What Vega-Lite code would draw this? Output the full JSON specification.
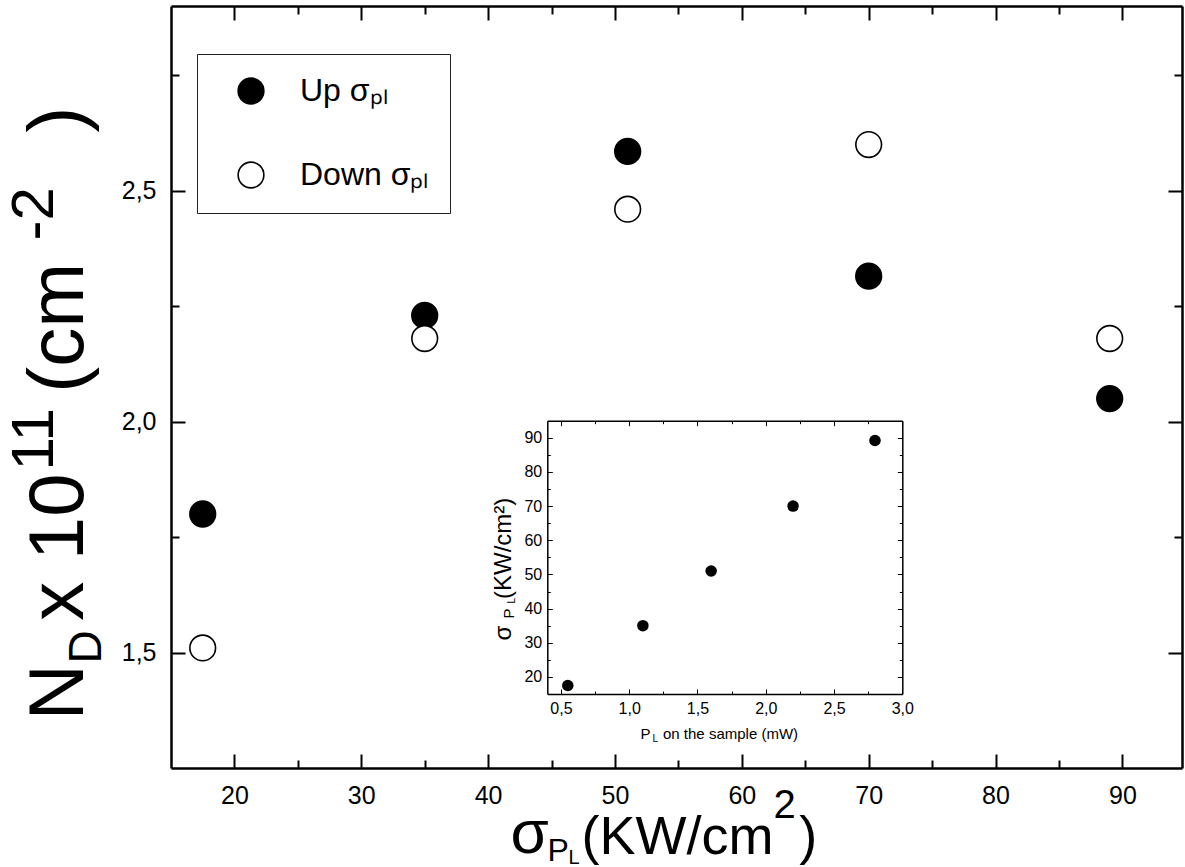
{
  "$schema": "https://vega.github.io/schema/vega-lite/v6.json",
  "width": 1011,
  "height": 762,
  "autosize": {"type": "none"},
  "padding": {"left": 171, "top": 6, "right": 3, "bottom": 99},
  "background": "white",
  "config": {
    "view": {"stroke": null},
    "font": "Liberation Sans",
    "axis": {
      "grid": false, "domainColor": "black", "tickColor": "black", "labelColor": "black", "titleColor": "black",
      "labelFont": "Liberation Sans", "titleFont": "Liberation Sans", "titleFontWeight": "normal",
      "labelOverlap": false, "labelBound": false, "labelFlush": false,
      "titleAlign": "left", "titleBaseline": "alphabetic", "titlePadding": 0
    }
  },
  "resolve": {"scale": {"x": "independent", "y": "independent"}, "axis": {"x": "independent", "y": "independent"}},
  "layer": [
    {
      "data": {"values": [
        {"sigma": 17.5, "nd": 1.80, "dir": "Up"},
        {"sigma": 35, "nd": 2.23, "dir": "Up"},
        {"sigma": 51, "nd": 2.585, "dir": "Up"},
        {"sigma": 70, "nd": 2.315, "dir": "Up"},
        {"sigma": 89, "nd": 2.05, "dir": "Up"},
        {"sigma": 17.5, "nd": 1.51, "dir": "Down"},
        {"sigma": 35, "nd": 2.18, "dir": "Down"},
        {"sigma": 51, "nd": 2.46, "dir": "Down"},
        {"sigma": 70, "nd": 2.60, "dir": "Down"},
        {"sigma": 89, "nd": 2.18, "dir": "Down"}
      ]},
      "mark": {"type": "point", "shape": "circle", "size": 660, "stroke": "black", "strokeWidth": 1.6, "opacity": 1, "fillOpacity": 1},
      "encoding": {
        "x": {"field": "sigma", "type": "quantitative", "scale": {"domain": [15, 94.7], "nice": false, "zero": false},
          "axis": {"orient": "bottom", "values": [20,25,30,35,40,45,50,55,60,65,70,75,80,85,90],
            "tickSize": {"condition": {"test": "datum.value % 10 === 0", "value": -14}, "value": -8},
            "tickWidth": 2, "domainWidth": 2.5,
            "labelExpr": "datum.value % 10 === 0 ? datum.label : ''", "labelFontSize": 25, "labelPadding": 29,
            "title": "σ", "titleFontSize": 62, "titleX": 339, "titleY": 84, "titleAngle": 0}},
        "y": {"field": "nd", "type": "quantitative", "scale": {"domain": [1.25, 2.9], "nice": false, "zero": false},
          "axis": {"orient": "left", "values": [1.5,1.75,2,2.25,2.5,2.75],
            "tickSize": {"condition": {"test": "(datum.value * 2) % 1 === 0", "value": -14}, "value": -8},
            "tickWidth": 2, "domainWidth": 2.5,
            "labelExpr": "(datum.value * 2) % 1 === 0 ? replace(format(datum.value, '.1f'), '.', ',') : ''",
            "labelFontSize": 25, "labelPadding": 29,
            "title": "N\u00a0\u00a0x\u00a010\u00a0\u00a0\u00a0\u2009(cm\u00a0\u00a0\u00a0\u00a0\u00a0\u00a0)", "titleFontSize": 78, "titleX": -89, "titleY": 714, "titleAngle": -90}},
        "fill": {"field": "dir", "type": "nominal", "scale": {"domain": ["Up", "Down"], "range": ["black", "white"]},
          "legend": {"orient": "none", "legendX": 26, "legendY": 48, "title": null, "symbolType": "circle", "symbolSize": 660,
            "symbolStrokeColor": "black", "symbolStrokeWidth": 1.6, "labelFontSize": 32, "labelFont": "Liberation Sans",
            "labelColor": "black", "padding": 21, "rowPadding": 50, "symbolOffset": 17, "labelOffset": 33,
            "strokeColor": "#222", "labelExpr": "datum.label + ' σₚₗ'", "labelLimit": 400}}
      }
    },
    {
      "data": {"values": []},
      "mark": "point",
      "encoding": {
        "x": {"field": "a", "type": "quantitative", "scale": {"domain": [15, 94.7], "nice": false, "zero": false},
          "axis": {"orient": "top", "values": [20,25,30,35,40,45,50,55,60,65,70,75,80,85,90],
            "tickSize": {"condition": {"test": "datum.value % 10 === 0", "value": -14}, "value": -8},
            "tickWidth": 2, "domainWidth": 2.5, "labels": false,
            "title": "P", "titleFontSize": 32, "titleX": 376, "titleY": 854, "titleAngle": 0}},
        "y": {"field": "b", "type": "quantitative", "scale": {"domain": [1.25, 2.9], "nice": false, "zero": false},
          "axis": {"orient": "right", "values": [1.5,1.75,2,2.25,2.5,2.75],
            "tickSize": {"condition": {"test": "(datum.value * 2) % 1 === 0", "value": -14}, "value": -8},
            "tickWidth": 2, "domainWidth": 2.5, "labels": false,
            "title": "D", "titleFontSize": 46, "titleX": -1082, "titleY": 657, "titleAngle": -90}}
      }
    },
    {
      "data": {"values": [
        {"p": 0.55, "s": 17.5},
        {"p": 1.1, "s": 35},
        {"p": 1.6, "s": 51},
        {"p": 2.2, "s": 70},
        {"p": 2.8, "s": 89.2}
      ]},
      "mark": {"type": "point", "shape": "circle", "size": 133, "filled": true, "color": "black", "opacity": 1},
      "encoding": {
        "x": {"field": "p", "type": "quantitative", "scale": {"domain": [0.4, 3.0], "range": [376.3, 731.3], "nice": false, "zero": false},
          "axis": {"orient": "bottom", "offset": -74, "values": [0.5,0.75,1,1.25,1.5,1.75,2,2.25,2.5,2.75,3],
            "tickSize": {"condition": {"test": "(datum.value * 2) % 1 === 0", "value": -5}, "value": -3},
            "tickWidth": 1, "domainWidth": 1.5,
            "labelExpr": "(datum.value * 2) % 1 === 0 ? replace(format(datum.value, '.1f'), '.', ',') : ''",
            "labelFontSize": 16, "labelPadding": 11,
            "title": "P\u00a0\u00a0\u00a0on the sample (mW)", "titleFontSize": 15, "titleX": 469, "titleY": 44, "titleAngle": 0}},
        "y": {"field": "s", "type": "quantitative", "scale": {"domain": [15, 95], "range": [688, 414.7], "nice": false, "zero": false},
          "axis": {"orient": "left", "offset": -376.3, "values": [20,25,30,35,40,45,50,55,60,65,70,75,80,85,90],
            "tickSize": {"condition": {"test": "datum.value % 10 === 0", "value": -5}, "value": -3},
            "tickWidth": 1, "domainWidth": 1.5,
            "labelExpr": "datum.value % 10 === 0 ? datum.label : ''", "labelFontSize": 16, "labelPadding": 10.6,
            "title": "σ\u00a0\u00a0\u00a0\u00a0(KW/cm²)", "titleFontSize": 24, "titleX": -37.3, "titleY": 634, "titleAngle": -90}}
      }
    },
    {
      "data": {"values": []},
      "mark": "point",
      "encoding": {
        "x": {"field": "a", "type": "quantitative", "scale": {"domain": [0.4, 3.0], "range": [376.3, 731.3], "nice": false, "zero": false},
          "axis": {"orient": "top", "offset": -414.7, "values": [0.5,0.75,1,1.25,1.5,1.75,2,2.25,2.5,2.75,3],
            "tickSize": {"condition": {"test": "(datum.value * 2) % 1 === 0", "value": -5}, "value": -3},
            "tickWidth": 1, "domainWidth": 1.5, "labels": false,
            "title": "L", "titleFontSize": 10, "titleX": 481, "titleY": 320.3, "titleAngle": 0}},
        "y": {"field": "b", "type": "quantitative", "scale": {"domain": [15, 95], "range": [688, 414.7], "nice": false, "zero": false},
          "axis": {"orient": "right", "offset": -279.7, "values": [20,25,30,35,40,45,50,55,60,65,70,75,80,85,90],
            "tickSize": {"condition": {"test": "datum.value % 10 === 0", "value": -5}, "value": -3},
            "tickWidth": 1, "domainWidth": 1.5, "labels": false,
            "title": "P", "titleFontSize": 15, "titleX": -389.3, "titleY": 612, "titleAngle": -90}}
      }
    },
    {
      "data": {"values": []},
      "mark": "point",
      "encoding": {
        "x": {"field": "a", "type": "quantitative", "scale": {"domain": [0, 1]},
          "axis": {"orient": "bottom", "domain": false, "ticks": false, "labels": false,
            "title": "(KW/cm\u00a0\u2009)", "titleFontSize": 54, "titleX": 410, "titleY": 85, "titleAngle": 0}},
        "y": {"field": "b", "type": "quantitative", "scale": {"domain": [0, 1]},
          "axis": {"orient": "left", "domain": false, "ticks": false, "labels": false,
            "title": "11", "titleFontSize": 60, "titleX": -119, "titleY": 464, "titleAngle": -90}}
      }
    },
    {
      "data": {"values": []},
      "mark": "point",
      "encoding": {
        "x": {"field": "a", "type": "quantitative", "scale": {"domain": [0, 1]},
          "axis": {"orient": "bottom", "domain": false, "ticks": false, "labels": false,
            "title": "L", "titleFontSize": 20, "titleX": 397, "titleY": 95, "titleAngle": 0}},
        "y": {"field": "b", "type": "quantitative", "scale": {"domain": [0, 1]},
          "axis": {"orient": "left", "domain": false, "ticks": false, "labels": false,
            "title": "-2", "titleFontSize": 60, "titleX": -119, "titleY": 234, "titleAngle": -90}}
      }
    },
    {
      "data": {"values": []},
      "mark": "point",
      "encoding": {
        "x": {"field": "a", "type": "quantitative", "scale": {"domain": [0, 1]},
          "axis": {"orient": "bottom", "domain": false, "ticks": false, "labels": false,
            "title": "2", "titleFontSize": 40, "titleX": 602, "titleY": 49, "titleAngle": 0}},
        "y": {"field": "b", "type": "quantitative", "scale": {"domain": [0, 1]},
          "axis": {"orient": "left", "domain": false, "ticks": false, "labels": false,
            "title": "L", "titleFontSize": 10, "titleX": 343, "titleY": 597, "titleAngle": -90}}
      }
    }
  ]
}
